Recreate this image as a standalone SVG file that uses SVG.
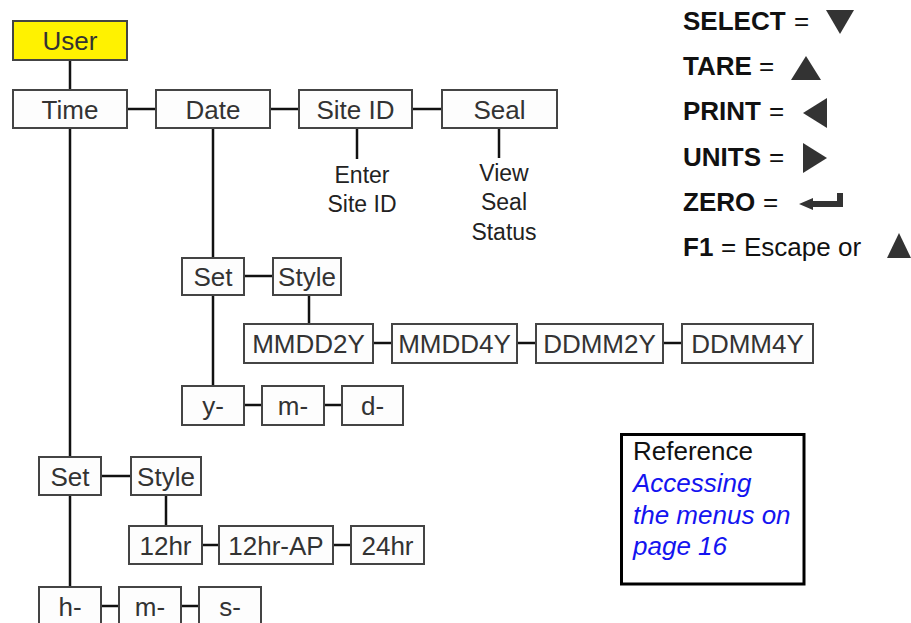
<svg xmlns="http://www.w3.org/2000/svg" width="911" height="623" viewBox="0 0 911 623">
<style>
.box{fill:#fdfdfd;stroke:#444;stroke-width:2}
.user{fill:#fff200;stroke:#444;stroke-width:2}
.t{font-family:"Liberation Sans",Arial,sans-serif;font-size:26px;fill:#333;text-anchor:middle}
.s{font-family:"Liberation Sans",Arial,sans-serif;font-size:23px;fill:#222;text-anchor:middle}
.lg{font-family:"Liberation Sans",Arial,sans-serif;font-size:26px;fill:#111}
.b{font-weight:bold}
.tri{fill:#333}
.ref{font-family:"Liberation Sans",Arial,sans-serif;font-size:26px}
.conn line{stroke:#111;stroke-width:2.5}
</style>
<rect width="911" height="623" fill="#fff"/>
<g class="conn">
<line x1="70" y1="60" x2="70" y2="90"/>
<line x1="70" y1="128" x2="70" y2="457"/>
<line x1="70" y1="495" x2="70" y2="587"/>
<line x1="127" y1="109" x2="156" y2="109"/>
<line x1="270" y1="109" x2="299" y2="109"/>
<line x1="412" y1="109" x2="442" y2="109"/>
<line x1="357" y1="128" x2="357" y2="159"/>
<line x1="499" y1="128" x2="499" y2="158"/>
<line x1="213" y1="128" x2="213" y2="258"/>
<line x1="213" y1="295" x2="213" y2="386"/>
<line x1="244" y1="276" x2="273" y2="276"/>
<line x1="309" y1="295" x2="309" y2="324"/>
<line x1="373" y1="343" x2="392" y2="343"/>
<line x1="517" y1="343" x2="536" y2="343"/>
<line x1="663" y1="343" x2="682" y2="343"/>
<line x1="244" y1="405" x2="262" y2="405"/>
<line x1="324" y1="405" x2="342" y2="405"/>
<line x1="101" y1="476" x2="131" y2="476"/>
<line x1="166" y1="495" x2="166" y2="526"/>
<line x1="202" y1="545" x2="219" y2="545"/>
<line x1="333" y1="545" x2="351" y2="545"/>
<line x1="101" y1="606" x2="119" y2="606"/>
<line x1="181" y1="606" x2="199" y2="606"/>
</g>
<g id="user"><rect class="user" x="13" y="21" width="114" height="39"/><text class="t" x="70" y="50">User</text></g>
<g id="time"><rect class="box" x="13" y="90" width="114" height="38"/><text class="t" x="70" y="119">Time</text></g>
<g id="date"><rect class="box" x="156" y="90" width="114" height="38"/><text class="t" x="213" y="119">Date</text></g>
<g id="siteid"><rect class="box" x="299" y="90" width="113" height="38"/><text class="t" x="355.5" y="119">Site ID</text></g>
<g id="seal"><rect class="box" x="442" y="90" width="115" height="38"/><text class="t" x="499.5" y="119">Seal</text></g>
<g id="enter-site-id"><text class="s" x="362" y="183">Enter</text><text class="s" x="362" y="212">Site ID</text></g>
<g id="view-seal-status"><text class="s" x="504" y="181">View</text><text class="s" x="504" y="210">Seal</text><text class="s" x="504" y="240">Status</text></g>
<g id="date-set"><rect class="box" x="182" y="258" width="62" height="37"/><text class="t" x="213" y="286">Set</text></g>
<g id="date-style"><rect class="box" x="273" y="258" width="68" height="37"/><text class="t" x="307" y="286">Style</text></g>
<g id="mmdd2y"><rect class="box" x="244" y="324" width="129" height="39"/><text class="t" x="308.5" y="353">MMDD2Y</text></g>
<g id="mmdd4y"><rect class="box" x="392" y="324" width="125" height="39"/><text class="t" x="454.5" y="353">MMDD4Y</text></g>
<g id="ddmm2y"><rect class="box" x="536" y="324" width="127" height="39"/><text class="t" x="599.5" y="353">DDMM2Y</text></g>
<g id="ddmm4y"><rect class="box" x="682" y="324" width="131" height="39"/><text class="t" x="747.5" y="353">DDMM4Y</text></g>
<g id="date-y"><rect class="box" x="182" y="386" width="62" height="39"/><text class="t" x="213" y="415">y-</text></g>
<g id="date-m"><rect class="box" x="262" y="386" width="62" height="39"/><text class="t" x="293" y="415">m-</text></g>
<g id="date-d"><rect class="box" x="342" y="386" width="61" height="39"/><text class="t" x="372.5" y="415">d-</text></g>
<g id="time-set"><rect class="box" x="39" y="457" width="62" height="38"/><text class="t" x="70" y="486">Set</text></g>
<g id="time-style"><rect class="box" x="131" y="457" width="70" height="38"/><text class="t" x="166" y="486">Style</text></g>
<g id="h12"><rect class="box" x="129" y="526" width="73" height="38"/><text class="t" x="165.5" y="555">12hr</text></g>
<g id="h12ap"><rect class="box" x="219" y="526" width="114" height="38"/><text class="t" x="276" y="555">12hr-AP</text></g>
<g id="h24"><rect class="box" x="351" y="526" width="73" height="38"/><text class="t" x="387.5" y="555">24hr</text></g>
<g id="time-h"><rect class="box" x="39" y="587" width="62" height="40"/><text class="t" x="70" y="616">h-</text></g>
<g id="time-m"><rect class="box" x="119" y="587" width="62" height="40"/><text class="t" x="150" y="616">m-</text></g>
<g id="time-s"><rect class="box" x="199" y="587" width="62" height="40"/><text class="t" x="230" y="616">s-</text></g>
<g id="legend">
<text class="lg b" x="683" y="30">SELECT</text><text class="lg" x="794" y="30">=</text>
<polygon class="tri" points="826,10 854,10 840,34"/>
<text class="lg b" x="683" y="75">TARE</text><text class="lg" x="759" y="75">=</text>
<polygon class="tri" points="791,80 821,80 806,56"/>
<text class="lg b" x="683" y="120">PRINT</text><text class="lg" x="769" y="120">=</text>
<polygon class="tri" points="803,113 827,98 827,128"/>
<text class="lg b" x="683" y="166">UNITS</text><text class="lg" x="769" y="166">=</text>
<polygon class="tri" points="803,143 803,173 827,158"/>
<text class="lg b" x="683" y="211">ZERO</text><text class="lg" x="763" y="211">=</text>
<path class="tri" d="M799,204 L813,198 L813,201 L837,201 L837,193 L843,193 L843,207 L813,207 L813,210 Z"/>
<text class="lg b" x="683" y="256">F1</text><text class="lg" x="721" y="256">=</text><text class="lg" x="744" y="256">Escape or</text>
<polygon class="tri" points="887,258 911,258 899,233"/>
</g>
<g id="reference">
<rect x="621.5" y="434.5" width="182.5" height="149.5" fill="#fff" stroke="#000" stroke-width="3"/>
<text class="ref" x="633" y="460" fill="#111">Reference</text>
<text class="ref" x="633" y="492" fill="#1414f0" font-style="italic">Accessing</text>
<text class="ref" x="633" y="524" fill="#1414f0" font-style="italic">the menus on</text>
<text class="ref" x="633" y="555" fill="#1414f0" font-style="italic">page 16</text>
</g>
</svg>
